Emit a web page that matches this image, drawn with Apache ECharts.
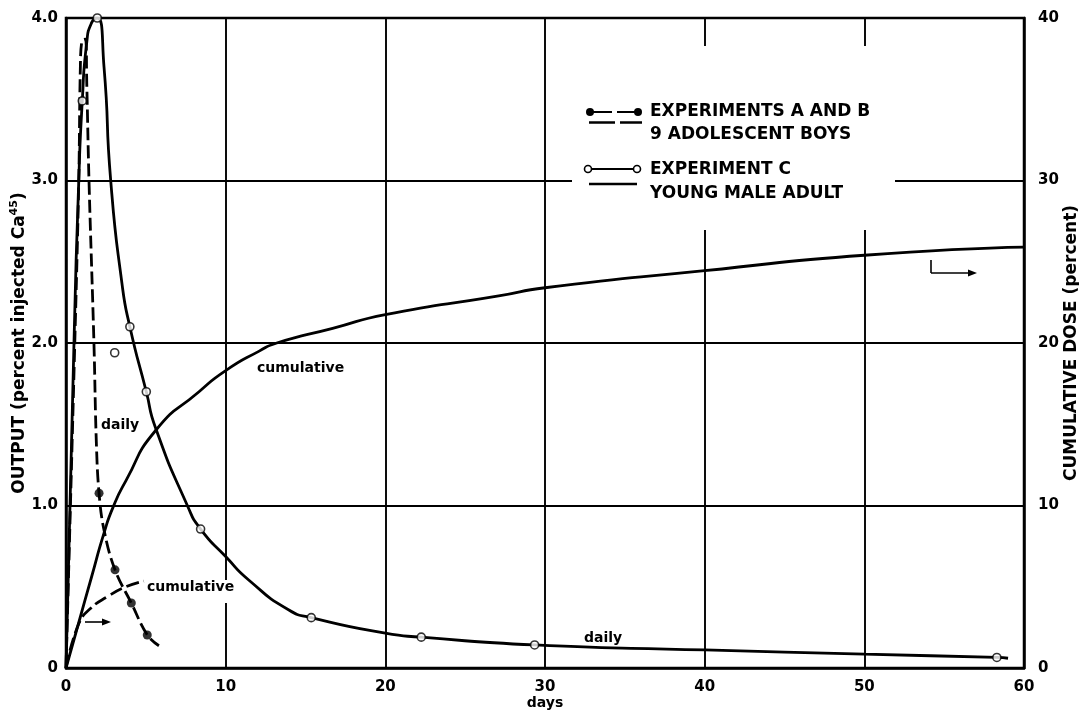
<!DOCTYPE html>
<html>
<head>
<meta charset="utf-8">
<script src="https://cdn.jsdelivr.net/npm/echarts@6/dist/echarts.min.js"></script>
<style>html,body{margin:0;padding:0;background:#fff}#c{width:1079px;height:713px}</style>
</head>
<body>
<div id="c"></div>
<script>
// ---- data (days, percent) ----
const xTicks = [0, 10, 20, 30, 40, 50, 60];
const leftTicks = [0, 1, 2, 3, 4];
const rightTicks = [0, 10, 20, 30, 40];

// Experiment C (young male adult) - daily output, smooth curve through the drawn line
const expCDailyCurve = [[0,0],[0.5,2.0],[0.8,3.0],[1.02,3.49],[1.3,3.85],[1.6,3.97],[1.96,4.0],[2.38,3.7],[2.8,3.0],[3.5,2.37],[4.0,2.1],[5.03,1.7],[5.6,1.48],[7.6,1.0],[8.43,0.855],[10,0.686],[11.46,0.54],[13.96,0.357],[15.36,0.31],[20,0.214],[22.25,0.19],[29.35,0.142],[40,0.111],[50,0.085],[58.3,0.065],[59,0.06]];
// Experiment C - plotted observations (open circles)
const expCDailyPoints = [[1.02,3.49],[1.96,4.0],[3.05,1.94],[4.0,2.1],[5.03,1.7],[8.43,0.855],[15.36,0.31],[22.25,0.19],[29.35,0.142],[58.3,0.065]];
// Experiments A and B (9 adolescent boys) - daily output
const expABDailyCurve = [[0,0],[0.55,2.0],[0.8,3.0],[0.9,3.7],[1.0,3.86],[1.22,3.87],[1.3,3.6],[1.44,3.0],[1.75,2.0],[1.9,1.39],[2.07,1.076],[2.38,0.85],[3.07,0.604],[4.09,0.4],[5.09,0.203],[5.82,0.137]];
const expABDailyPoints = [[2.07,1.076],[3.07,0.604],[4.09,0.4],[5.09,0.203]];
// Cumulative dose (percent, right axis)
const expCCumulative = [[0,0],[0.8,2.8],[1.6,5.6],[2.38,8.3],[2.95,9.9],[3.74,11.5],[5.6,14.6],[8.33,17.0],[10,18.3],[12.1,19.5],[13.2,20.0],[16.7,20.9],[20,21.75],[27.1,22.9],[30,23.4],[40,24.45],[50,25.4],[60,25.9]];
const expABCumulative = [[0,0],[0.81,2.75],[1.55,3.68],[2.59,4.39],[3.74,5.0],[4.88,5.35]];

const legendLines = ['EXPERIMENTS A AND B', '9 ADOLESCENT BOYS', 'EXPERIMENT C', 'YOUNG MALE ADULT'];
const curveLabels = ['daily', 'cumulative', 'cumulative', 'daily'];

// ---- chart ----
const FONT = 'DejaVu Sans';
const chart = echarts.init(document.getElementById('c'), null, {renderer: 'canvas'});
const dash = [13, 5];
const lw = 2.8;

function arrow(x1, y1, x2, y2) {
  const hl = 9, hw = 3.5;
  return [
    {type: 'line', z: 20, shape: {x1: x1, y1: y1, x2: x2 - hl + 1, y2: y2}, style: {stroke: '#000', lineWidth: 1.6}},
    {type: 'polygon', z: 20, shape: {points: [[x2, y2], [x2 - hl, y2 - hw], [x2 - hl, y2 + hw]]}, style: {fill: '#000'}}
  ];
}

const T = (text, x, y, size, extra) => Object.assign({
  type: 'text', z: 20, x: x, y: y,
  style: {text: text, fill: '#000', font: 'bold ' + size + 'px "' + FONT + '"', textVerticalAlign: 'middle'}
}, extra || {});

const graphics = [
  // white cut-out behind the legend
  {type: 'rect', z: 5, shape: {x: 572, y: 46, width: 323, height: 184}, style: {fill: '#fff'}},
  // small gap behind lower "cumulative" label
  {type: 'rect', z: 5, shape: {x: 222, y: 580, width: 12, height: 23}, style: {fill: '#fff'}},
  // legend row 1: dot-dash-dot
  {type: 'line', z: 20, shape: {x1: 590, y1: 112, x2: 638, y2: 112}, style: {stroke: '#000', lineWidth: 2.2, lineDash: [22, 5]}},
  {type: 'circle', z: 21, shape: {cx: 590, cy: 112, r: 4}, style: {fill: '#000'}},
  {type: 'circle', z: 21, shape: {cx: 638, cy: 112, r: 4}, style: {fill: '#000'}},
  {type: 'line', z: 20, shape: {x1: 589, y1: 122.5, x2: 642, y2: 122.5}, style: {stroke: '#000', lineWidth: 2.4, lineDash: [26, 5]}},
  // legend row 2: open circles with solid line
  {type: 'line', z: 20, shape: {x1: 588, y1: 169, x2: 637, y2: 169}, style: {stroke: '#000', lineWidth: 2}},
  {type: 'circle', z: 21, shape: {cx: 588, cy: 169, r: 3.5}, style: {fill: '#fff', stroke: '#000', lineWidth: 1.6}},
  {type: 'circle', z: 21, shape: {cx: 637, cy: 169, r: 3.5}, style: {fill: '#fff', stroke: '#000', lineWidth: 1.6}},
  {type: 'line', z: 20, shape: {x1: 589, y1: 184, x2: 637, y2: 184}, style: {stroke: '#000', lineWidth: 2.4}},
  T(legendLines[0], 650, 112, 17),
  T(legendLines[1], 650, 135, 17),
  T(legendLines[2], 650, 170, 17),
  T(legendLines[3], 650, 194, 17),
  // curve labels
  T(curveLabels[0], 101, 425, 14),
  T(curveLabels[1], 257, 368, 14),
  T(curveLabels[2], 147, 587, 14),
  T(curveLabels[3], 584, 638, 14),
  // bent arrow pointing to right axis
  {type: 'line', z: 20, shape: {x1: 931, y1: 260, x2: 931, y2: 273}, style: {stroke: '#000', lineWidth: 1.6}},
  ...arrow(931, 273, 977, 273),
  // arrow from A/B cumulative toward right
  ...arrow(85, 622, 111, 622)
];

const option = {
  animation: false,
  backgroundColor: '#fff',
  grid: {left: 66, right: 55, top: 18, bottom: 45, show: true, borderColor: '#000', borderWidth: 2.5,
    backgroundColor: 'transparent', containLabel: false, outerBoundsMode: 'none'},
  xAxis: {
    type: 'value', min: xTicks[0], max: xTicks[xTicks.length - 1], interval: 10,
    name: 'days', nameLocation: 'middle', nameGap: 28, nameMoveOverlap: false,
    nameTextStyle: {fontFamily: FONT, fontWeight: 'bold', fontSize: 14, color: '#000'},
    axisLine: {show: true, lineStyle: {color: '#000', width: 2.5}},
    axisTick: {show: false},
    axisLabel: {color: '#000', fontFamily: FONT, fontWeight: 'bold', fontSize: 15, margin: 12, showMinLabel: true, showMaxLabel: true},
    splitLine: {show: true, lineStyle: {color: '#000', width: 1.9}}
  },
  yAxis: [
    {
      type: 'value', min: leftTicks[0], max: leftTicks[leftTicks.length - 1], interval: 1, position: 'left',
      name: 'OUTPUT (percent injected Ca{sup|45})', nameLocation: 'middle', nameGap: 36, nameRotate: 90, nameMoveOverlap: false,
      nameTextStyle: {fontFamily: FONT, fontWeight: 'bold', fontSize: 17, color: '#000',
        rich: {sup: {fontFamily: FONT, fontWeight: 'bold', fontSize: 11, verticalAlign: 'top', padding: [0, 0, 10, 0], color: '#000'}}},
      axisLine: {show: true, lineStyle: {color: '#000', width: 2.5}},
      axisTick: {show: false},
      axisLabel: {color: '#000', fontFamily: FONT, fontWeight: 'bold', fontSize: 15, margin: 8,
        formatter: v => v === 0 ? '0' : v.toFixed(1)},
      splitLine: {show: true, lineStyle: {color: '#000', width: 1.9}}
    },
    {
      type: 'value', min: rightTicks[0], max: rightTicks[rightTicks.length - 1], interval: 10, position: 'right',
      name: 'CUMULATIVE DOSE (percent)', nameLocation: 'middle', nameGap: 39, nameRotate: 90, nameMoveOverlap: false,
      nameTextStyle: {fontFamily: FONT, fontWeight: 'bold', fontSize: 17, color: '#000'},
      axisLine: {show: true, lineStyle: {color: '#000', width: 2.5}},
      axisTick: {show: false},
      axisLabel: {color: '#000', fontFamily: FONT, fontWeight: 'bold', fontSize: 15, margin: 14},
      splitLine: {show: false}
    }
  ],
  series: [
    {name: 'C daily', type: 'line', z: 10, yAxisIndex: 0, data: expCDailyCurve, smooth: 0.6, showSymbol: false,
      lineStyle: {color: '#000', width: lw}},
    {name: 'C daily obs', type: 'scatter', z: 12, yAxisIndex: 0, data: expCDailyPoints, symbol: 'circle', symbolSize: 8,
      itemStyle: {color: '#fff', borderColor: '#000', borderWidth: 1.6}},
    {name: 'AB daily', type: 'line', z: 10, yAxisIndex: 0, data: expABDailyCurve, smooth: 0.4, showSymbol: false,
      lineStyle: {color: '#000', width: lw, type: dash}},
    {name: 'AB daily obs', type: 'scatter', z: 12, yAxisIndex: 0, data: expABDailyPoints, symbol: 'circle', symbolSize: 9,
      itemStyle: {color: '#000'}},
    {name: 'C cumulative', type: 'line', z: 10, yAxisIndex: 1, data: expCCumulative, smooth: 0.6, showSymbol: false,
      lineStyle: {color: '#000', width: lw}},
    {name: 'AB cumulative', type: 'line', z: 10, yAxisIndex: 1, data: expABCumulative, smooth: 0.5, showSymbol: false,
      lineStyle: {color: '#000', width: lw, type: dash}}
  ],
  graphic: graphics
};
chart.setOption(option);
</script>
</body>
</html>
